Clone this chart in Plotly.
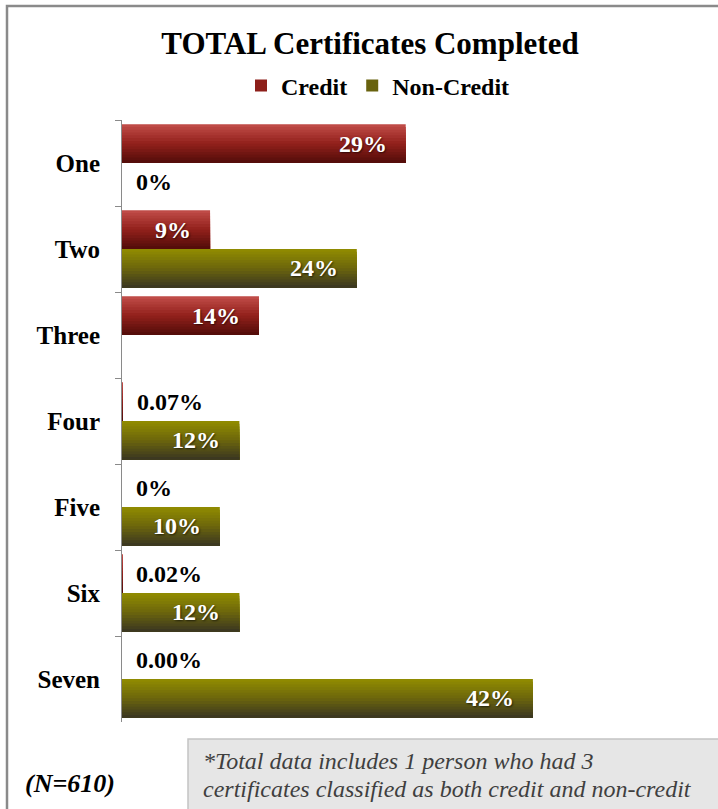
import plotly.graph_objects as go

# ---- data -------------------------------------------------------------
categories = ["One", "Two", "Three", "Four", "Five", "Six", "Seven"]
credit = [29, 9, 14, 0.07, 0, 0.02, 0.00]
credit_labels = ["29%", "9%", "14%", "0.07%", "0%", "0.02%", "0.00%"]
noncredit = [0, 24, None, 12, 10, 12, 42]
noncredit_labels = ["0%", "24%", None, "12%", "10%", "12%", "42%"]
footnote_lines = [
    "*Total data includes 1 person who had 3",
    "certificates classified as both credit and non-credit",
]

# ---- styling ------------------------------------------------------------
SERIF = "Liberation Serif"
W, H = 718, 809
ML, MR, MT, MB = 122, 9, 120, 87
PW, PH = W - ML - MR, H - MT - MB
XMAX = 60
BAR_H = 0.45          # bar thickness in category units
N_BANDS = 14          # horizontal slices used to shade each bar

credit_stops = [(194, 78, 74), (146, 32, 27), (80, 12, 9)]
noncredit_stops = [(146, 141, 0), (108, 102, 12), (56, 52, 34)]


def px_x(p):
    return (p - ML) / PW


def px_y(p):
    return 1 - (p - MT) / PH


def shade(stops, t):
    # piecewise-linear colour ramp, t in [0, 1] from top to bottom
    if t <= 0.5:
        a, b, u = stops[0], stops[1], t / 0.5
    else:
        a, b, u = stops[1], stops[2], (t - 0.5) / 0.5
    c = [round(a[i] + (b[i] - a[i]) * u) for i in range(3)]
    return f"rgb({c[0]},{c[1]},{c[2]})"


fig = go.Figure()


def add_series(name, values, stops, top_offset):
    # each slice runs from its own top edge down to the bar's bottom edge,
    # so later slices cover earlier ones without seams
    h = BAR_H / N_BANDS
    for k in range(N_BANDS):
        fig.add_trace(go.Bar(
            y=categories, x=values, orientation="h",
            offset=top_offset + k * h, width=BAR_H - k * h,
            marker=dict(color=shade(stops, (k + 0.5) / N_BANDS), line=dict(width=0)),
            name=name, legendgroup=name,
            showlegend=(k == N_BANDS // 2),
            hoverinfo="skip",
        ))


add_series("Credit", credit, credit_stops, -BAR_H)
add_series("Non-Credit", noncredit, noncredit_stops, 0.0)

# ---- value labels -----------------------------------------------------
annotations = []


def add_labels(values, labels, dy):
    for i, (v, lab) in enumerate(zip(values, labels)):
        if v is None or lab is None:
            continue
        if v > 1:
            annotations.append(dict(
                x=v, y=i + dy, xref="x", yref="y", text=lab, showarrow=False,
                xanchor="right", yanchor="middle", xshift=-17,
                font=dict(family=SERIF, size=24, color="white", weight="bold",
                          shadow="1px 1px 2px rgba(0,0,0,0.6)"),
            ))
        else:
            annotations.append(dict(
                x=v, y=i + dy, xref="x", yref="y", text=lab, showarrow=False,
                xanchor="left", yanchor="middle", xshift=12,
                font=dict(family=SERIF, size=24, color="black", weight="bold"),
            ))


add_labels(credit, credit_labels, -BAR_H / 2)
add_labels(noncredit, noncredit_labels, BAR_H / 2)

# footnote and sample size
for line, ypx in zip(footnote_lines, [761, 789]):
    annotations.append(dict(
        x=px_x(201), y=px_y(ypx), xref="paper", yref="paper",
        text=line, showarrow=False, xanchor="left", yanchor="middle", align="left",
        font=dict(family=SERIF, size=24, color="#3f3f3f", style="italic"),
    ))
annotations.append(dict(
    x=px_x(23), y=px_y(783), xref="paper", yref="paper",
    text="(N=610)", showarrow=False, xanchor="left", yanchor="middle",
    font=dict(family=SERIF, size=26, color="black", style="italic", weight="bold"),
))

shapes = [
    # chart frame
    dict(type="rect", xref="paper", yref="paper",
         x0=px_x(7), x1=px_x(740), y0=px_y(830), y1=px_y(6),
         line=dict(color="#8a8a8a", width=2.5), fillcolor="rgba(0,0,0,0)", layer="below"),
    # footnote box
    dict(type="rect", xref="paper", yref="paper",
         x0=px_x(188), x1=px_x(740), y0=px_y(830), y1=px_y(739),
         line=dict(color="#c4c4c4", width=1.5), fillcolor="#e6e6e6", layer="below"),
]

fig.update_layout(
    width=W, height=H,
    margin=dict(l=ML, r=MR, t=MT, b=MB),
    paper_bgcolor="white", plot_bgcolor="white",
    barmode="overlay",
    title=dict(
        text="TOTAL Certificates Completed",
        x=px_x(370), xref="paper", xanchor="center",
        y=1 - 43 / H, yref="container", yanchor="middle",
        font=dict(family=SERIF, size=31, color="black", weight="bold"),
    ),
    legend=dict(
        orientation="h", x=px_x(378), xanchor="center",
        y=px_y(86), yanchor="middle",
        font=dict(family=SERIF, size=24, color="black", weight="bold"),
        itemwidth=30, traceorder="normal", bgcolor="rgba(0,0,0,0)",
    ),
    xaxis=dict(range=[0, XMAX], visible=False, fixedrange=True),
    yaxis=dict(
        type="category", categoryorder="array", categoryarray=categories,
        autorange="reversed",
        tickson="boundaries", ticks="outside", ticklen=6, tickcolor="#8a8a8a",
        showline=True, linecolor="#8a8a8a", linewidth=1,
        showgrid=False, zeroline=False, ticklabelstandoff=16,
        tickfont=dict(family=SERIF, size=25, color="black", weight="bold"),
    ),
    annotations=annotations,
    shapes=shapes,
    showlegend=True,
)

fig.write_html("out.html")
